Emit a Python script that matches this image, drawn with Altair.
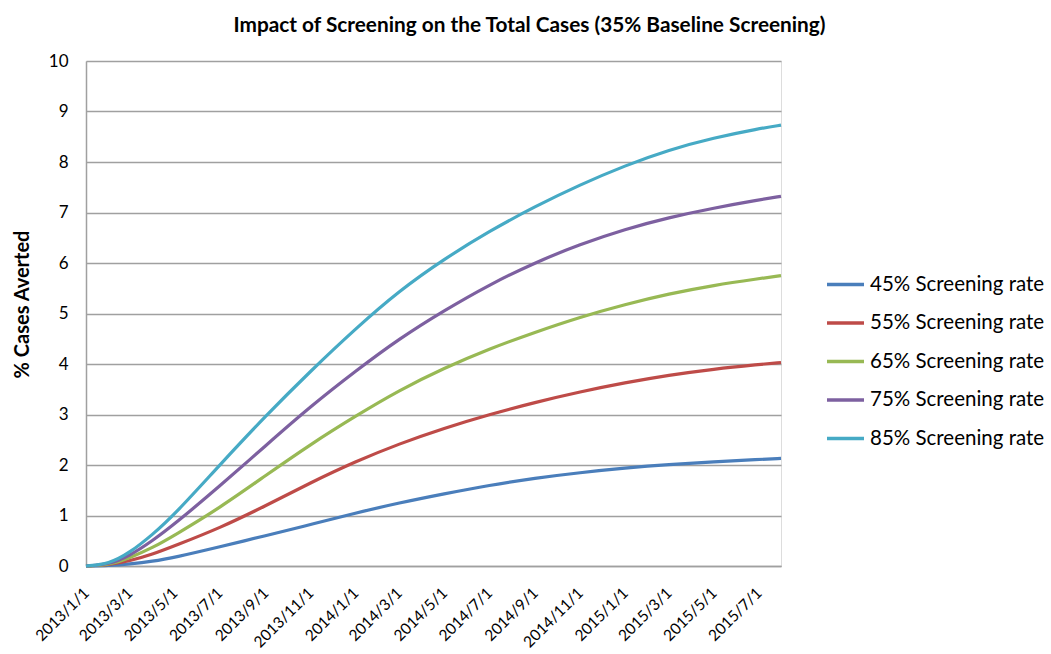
import altair as alt
import pandas as pd

dates = ["2013/01/01", "2013/02/01", "2013/03/01", "2013/04/01", "2013/05/01",
         "2013/07/01", "2013/09/01", "2013/11/01", "2014/01/01", "2014/03/01",
         "2014/05/01", "2014/07/01", "2014/09/01", "2014/11/01", "2015/01/01",
         "2015/03/01", "2015/05/01", "2015/07/01", "2015/07/31"]

s45 = [0, 0.01, 0.04, 0.09, 0.17, 0.38, 0.60, 0.82, 1.05, 1.25, 1.43, 1.60, 1.74,
       1.85, 1.94, 2.01, 2.06, 2.11, 2.13]
s55 = [0, 0.02, 0.10, 0.23, 0.40, 0.75, 1.19, 1.65, 2.07, 2.42, 2.73, 3.00, 3.24,
       3.45, 3.63, 3.78, 3.90, 3.99, 4.03]
s65 = [0, 0.02, 0.16, 0.36, 0.61, 1.15, 1.79, 2.41, 2.97, 3.48, 3.92, 4.30, 4.63,
       4.93, 5.18, 5.39, 5.56, 5.69, 5.75]
s75 = [0, 0.03, 0.20, 0.50, 0.83, 1.58, 2.38, 3.16, 3.86, 4.50, 5.06, 5.57, 6.01,
       6.37, 6.67, 6.90, 7.09, 7.25, 7.32]
s85 = [0, 0.04, 0.26, 0.62, 1.02, 2.00, 2.97, 3.86, 4.70, 5.45, 6.08, 6.63, 7.12,
       7.55, 7.93, 8.24, 8.48, 8.66, 8.73]

series_names = ["45% Screening rate", "55% Screening rate", "65% Screening rate",
                "75% Screening rate", "85% Screening rate"]
series_colors = ["#4a7ebb", "#be4b48", "#98b954", "#7d60a0", "#46aac5"]
series_values = [s45, s55, s65, s75, s85]

tick_dates = ["2013/01/01", "2013/03/01", "2013/05/01", "2013/07/01", "2013/09/01",
              "2013/11/01", "2014/01/01", "2014/03/01", "2014/05/01", "2014/07/01",
              "2014/09/01", "2014/11/01", "2015/01/01", "2015/03/01", "2015/05/01",
              "2015/07/01"]

rows = []
for name, vals in zip(series_names, series_values):
    for d, v in zip(dates, vals):
        rows.append({"date": d, "value": v, "series": name})
df = pd.DataFrame(rows)


def to_dt(s):
    y, m, d = s.split("/")
    return alt.DateTime(year=int(y), month=int(m), date=int(d))


FONT = "Lato"

chart = alt.Chart(df).mark_line(strokeWidth=3.2, interpolate="basis").encode(
    x=alt.X("date:T",
            scale=alt.Scale(domain=[to_dt(dates[0]), to_dt(dates[-1])], nice=False),
            axis=alt.Axis(values=[to_dt(t) for t in tick_dates], format="%Y/%-m/%-d",
                          labelAngle=-45, labelAlign="right", labelBaseline="middle",
                          labelFontSize=15.5, labelFont=FONT, labelColor="#000000",
                          labelPadding=24, ticks=False, grid=False, domainColor="#a0a0a0",
                          domainWidth=1.5, title=None, labelOverlap=False,
                          labelBound=False, labelFlush=False)),
    y=alt.Y("value:Q",
            scale=alt.Scale(domain=[0, 10], nice=False),
            axis=alt.Axis(values=list(range(0, 11)), labelFontSize=17, labelFont=FONT,
                          labelColor="#000000", labelPadding=18, ticks=False,
                          gridColor="#a0a0a0", gridWidth=1.3, domainColor="#a0a0a0",
                          domainWidth=1.5, title="% Cases Averted", titleFont=FONT,
                          titleFontSize=20, titleFontWeight="bold", titleColor="#000000",
                          titleAngle=-90, titleAlign="center", titleBaseline="middle",
                          titleX=-64, titleY=243)),
    color=alt.Color("series:N",
                    scale=alt.Scale(domain=series_names, range=series_colors),
                    legend=alt.Legend(orient="none", legendX=739, legendY=203,
                                      title=None, symbolType="stroke",
                                      symbolStrokeWidth=3.5, symbolSize=1369,
                                      labelFont=FONT, labelFontSize=20.5,
                                      labelColor="#000000", labelOffset=4,
                                      rowPadding=7.5, labelLimit=300)),
).properties(
    width=695, height=505,
    title=alt.TitleParams("Impact of Screening on the Total Cases (35% Baseline Screening)",
                          font=FONT, fontSize=20.8, fontWeight="bold", color="#000000",
                          anchor="middle", dx=96, offset=15),
    autosize=alt.AutoSizeParams(type="none"),
    padding={"left": 86, "top": 61, "right": 270, "bottom": 88},
).configure_view(stroke=None).configure(background="white")

chart.save("out.html", embed_options={"renderer": "svg", "actions": False})
